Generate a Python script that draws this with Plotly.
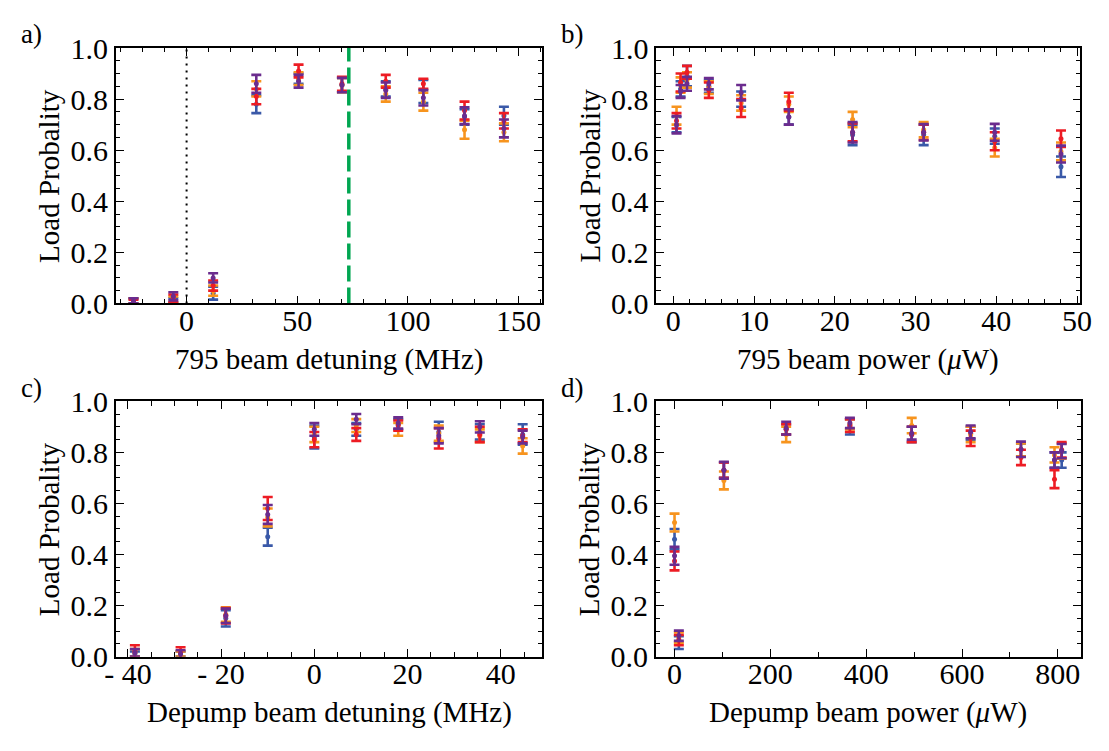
import plotly.graph_objects as go
from plotly.subplots import make_subplots

# ---------------- data ----------------
series_names = ["blue", "orange", "red", "purple"]
series_colors = ["#3A59A8", "#F7941E", "#ED1C24", "#6B2C8E"]

# Panel a: 795 beam detuning (MHz)
a_x = [-24, -6, 12, 31.5, 50.6, 70.2, 90, 107, 125.6, 143.4]
a_blue = [0.01, 0.01, 0.04, 0.78, 0.88, 0.855, 0.84, 0.83, 0.73, 0.735]
a_blue_err = [0.01, 0.01, 0.025, 0.035, 0.02, 0.028, 0.03, 0.045, 0.03, 0.035]
a_orange = [0.01, 0.015, 0.05, 0.84, 0.88, 0.855, 0.82, 0.79, 0.68, 0.67]
a_orange_err = [0.01, 0.012, 0.02, 0.03, 0.025, 0.028, 0.03, 0.035, 0.035, 0.035]
a_red = [0.005, 0.02, 0.07, 0.81, 0.91, 0.86, 0.87, 0.86, 0.755, 0.715]
a_red_err = [0.01, 0.015, 0.02, 0.03, 0.025, 0.027, 0.025, 0.02, 0.035, 0.03]
a_purple = [0.01, 0.028, 0.1, 0.86, 0.87, 0.855, 0.835, 0.805, 0.735, 0.685]
a_purple_err = [0.01, 0.016, 0.018, 0.035, 0.025, 0.028, 0.03, 0.03, 0.033, 0.035]
a_resonance = 0
a_marker_line = 73.3

# Panel b: 795 beam power (uW)
b_x = [0.4, 0.9, 1.7, 4.4, 8.4, 14.3, 22.2, 31, 39.8, 48]
b_blue = [0.70, 0.84, 0.89, 0.85, 0.80, 0.73, 0.66, 0.66, 0.655, 0.535]
b_blue_err = [0.03, 0.03, 0.04, 0.025, 0.03, 0.03, 0.04, 0.04, 0.03, 0.04]
b_orange = [0.735, 0.855, 0.875, 0.845, 0.785, 0.78, 0.72, 0.68, 0.61, 0.595]
b_orange_err = [0.035, 0.03, 0.03, 0.025, 0.03, 0.03, 0.03, 0.03, 0.035, 0.035]
b_red = [0.715, 0.865, 0.905, 0.835, 0.765, 0.79, 0.67, 0.67, 0.635, 0.645]
b_red_err = [0.03, 0.035, 0.025, 0.03, 0.035, 0.035, 0.035, 0.03, 0.035, 0.032]
b_purple = [0.70, 0.83, 0.86, 0.86, 0.825, 0.73, 0.67, 0.67, 0.67, 0.585]
b_purple_err = [0.034, 0.025, 0.027, 0.022, 0.03, 0.03, 0.04, 0.032, 0.033, 0.033]

# Panel c: Depump beam detuning (MHz)
c_x = [-38.5, -28.7, -19, -10, 0, 9, 18, 26.7, 35.5, 44.7]
c_blue = [0.01, 0.01, 0.15, 0.47, 0.86, 0.89, 0.91, 0.88, 0.88, 0.87]
c_blue_err = [0.01, 0.01, 0.032, 0.035, 0.045, 0.025, 0.02, 0.04, 0.03, 0.04]
c_orange = [0.015, 0.01, 0.165, 0.545, 0.87, 0.905, 0.89, 0.875, 0.865, 0.825]
c_orange_err = [0.015, 0.01, 0.028, 0.035, 0.03, 0.025, 0.025, 0.03, 0.025, 0.03]
c_red = [0.02, 0.015, 0.16, 0.58, 0.85, 0.87, 0.905, 0.855, 0.87, 0.865]
c_red_err = [0.025, 0.022, 0.03, 0.045, 0.03, 0.025, 0.02, 0.04, 0.03, 0.025]
c_purple = [0.015, 0.01, 0.16, 0.557, 0.89, 0.93, 0.915, 0.865, 0.9, 0.86]
c_purple_err = [0.015, 0.015, 0.028, 0.037, 0.025, 0.02, 0.022, 0.03, 0.022, 0.025]

# Panel d: Depump beam power (uW)
d_x = [0, 9, 103, 233, 366, 495, 618, 723, 793, 808]
d_blue = [0.46, 0.055, 0.73, 0.89, 0.90, 0.87, 0.875, 0.81, 0.77, 0.77]
d_blue_err = [0.04, 0.025, 0.03, 0.02, 0.03, 0.03, 0.025, 0.025, 0.03, 0.03]
d_orange = [0.525, 0.075, 0.69, 0.87, 0.91, 0.905, 0.87, 0.81, 0.79, 0.805]
d_orange_err = [0.035, 0.02, 0.035, 0.03, 0.02, 0.03, 0.03, 0.025, 0.03, 0.03]
d_red = [0.375, 0.065, 0.73, 0.89, 0.905, 0.87, 0.855, 0.78, 0.695, 0.81]
d_red_err = [0.037, 0.02, 0.03, 0.02, 0.025, 0.03, 0.03, 0.03, 0.035, 0.03]
d_purple = [0.395, 0.082, 0.73, 0.895, 0.915, 0.875, 0.88, 0.812, 0.77, 0.805]
d_purple_err = [0.035, 0.02, 0.033, 0.025, 0.02, 0.025, 0.025, 0.03, 0.03, 0.028]

x_titles = ["795 beam detuning (MHz)", "795 beam power (<i>μ</i>W)",
            "Depump beam detuning (MHz)", "Depump beam power (<i>μ</i>W)"]
y_title = "Load Probality"
panel_labels = ["a)", "b)", "c)", "d)"]
c_tickvals = [-40, -20, 0, 20, 40]
c_ticktext = ["- 40", "- 20", "0", "20", "40"]

panels = [
    (a_x, [(a_blue, a_blue_err), (a_orange, a_orange_err), (a_red, a_red_err), (a_purple, a_purple_err)]),
    (b_x, [(b_blue, b_blue_err), (b_orange, b_orange_err), (b_red, b_red_err), (b_purple, b_purple_err)]),
    (c_x, [(c_blue, c_blue_err), (c_orange, c_orange_err), (c_red, c_red_err), (c_purple, c_purple_err)]),
    (d_x, [(d_blue, d_blue_err), (d_orange, d_orange_err), (d_red, d_red_err), (d_purple, d_purple_err)]),
]

# ---------------- figure ----------------
W, H = 1109, 751
FONT = "Liberation Serif"

fig = make_subplots(rows=2, cols=2)

for i, (xs, series) in enumerate(panels):
    r, c = i // 2 + 1, i % 2 + 1
    for (vals, errs), name, col in zip(series, series_names, series_colors):
        fig.add_trace(go.Scatter(
            x=xs, y=vals, mode="markers", name=name, showlegend=False,
            marker=dict(color=col, size=5),
            error_y=dict(type="data", array=errs, visible=True, color=col,
                         thickness=2.6, width=5),
        ), row=r, col=c)

# vertical reference lines in panel a
fig.add_trace(go.Scatter(x=[a_resonance, a_resonance], y=[0, 1], mode="lines",
                         line=dict(color="black", width=2, dash="2px,5px"),
                         showlegend=False, hoverinfo="skip"), row=1, col=1)
fig.add_trace(go.Scatter(x=[a_marker_line, a_marker_line], y=[0, 1], mode="lines",
                         line=dict(color="#00A651", width=3.5, dash="16px,6px"),
                         showlegend=False, hoverinfo="skip"), row=1, col=1)

# domains in pixels
dom = {
    1: dict(x=(107, 542), y=(32.5, 300)),
    2: dict(x=(659, 1092), y=(32.5, 300)),
    3: dict(x=(107, 542.5), y=(402.5, 670)),
    4: dict(x=(658.5, 1092.5), y=(402.5, 670)),
}
xranges = {1: [-32, 160.5], 2: [-2.1, 50.4], 3: [-42.6, 48.9], 4: [-39, 848]}
xdticks = {1: (50, 10), 2: (10, 2), 3: (20, 5), 4: (200, 100)}

axis_common = dict(
    showline=True, linecolor="black", linewidth=1.5, mirror="allticks",
    ticks="inside", ticklen=8, tickwidth=1.3, tickcolor="black",
    showgrid=False, zeroline=False,
    tickfont=dict(family=FONT, size=30, color="black"),
)

for k in range(1, 5):
    xs = "" if k == 1 else str(k)
    d = dom[k]
    xd = [d["x"][0] / W, d["x"][1] / W]
    yd = [1 - d["y"][1] / H, 1 - d["y"][0] / H]
    maj, mnr = xdticks[k]
    xa = dict(axis_common, domain=xd, range=xranges[k], dtick=maj, tick0=0,
              ticklabelstandoff=-10,
              minor=dict(dtick=mnr, tick0=0, ticks="inside", ticklen=4.5,
                         tickwidth=1.1, tickcolor="black"))
    if k == 3:
        xa.update(tickmode="array", tickvals=c_tickvals, ticktext=c_ticktext)
    ya = dict(axis_common, domain=yd, range=[0, 1.0], dtick=0.2, tick0=0,
              tickformat=".1f",
              minor=dict(dtick=0.05, tick0=0, ticks="inside", ticklen=4.5,
                         tickwidth=1.1, tickcolor="black"))
    fig.layout["xaxis" + xs].update(xa)
    fig.layout["yaxis" + xs].update(ya)

annotations = []
# axis titles and panel labels
for k in range(1, 5):
    d = dom[k]
    cx = (d["x"][0] + d["x"][1]) / 2
    annotations.append(dict(text=x_titles[k - 1], x=cx / W, y=1 - (d["y"][1] + 59) / H,
                            xref="paper", yref="paper", showarrow=False,
                            xanchor="center", yanchor="middle",
                            font=dict(family=FONT, size=29, color="black")))
    ty = (d["y"][0] + d["y"][1]) / 2
    tx = d["x"][0] - 68
    annotations.append(dict(text=y_title, x=tx / W, y=1 - ty / H, textangle=-90,
                            xref="paper", yref="paper", showarrow=False,
                            xanchor="center", yanchor="middle",
                            font=dict(family=FONT, size=29, color="black")))
    annotations.append(dict(text=panel_labels[k - 1], x=(d["x"][0] - 99) / W,
                            y=1 - (d["y"][0] - 32) / H,
                            xref="paper", yref="paper", showarrow=False,
                            xanchor="left", yanchor="top",
                            font=dict(family=FONT, size=27, color="black")))

fig.update_layout(
    width=W, height=H, margin=dict(l=0, r=0, t=0, b=0),
    paper_bgcolor="white", plot_bgcolor="white",
    font=dict(family=FONT),
    annotations=annotations, showlegend=False,
)

fig.write_html("out.html")
